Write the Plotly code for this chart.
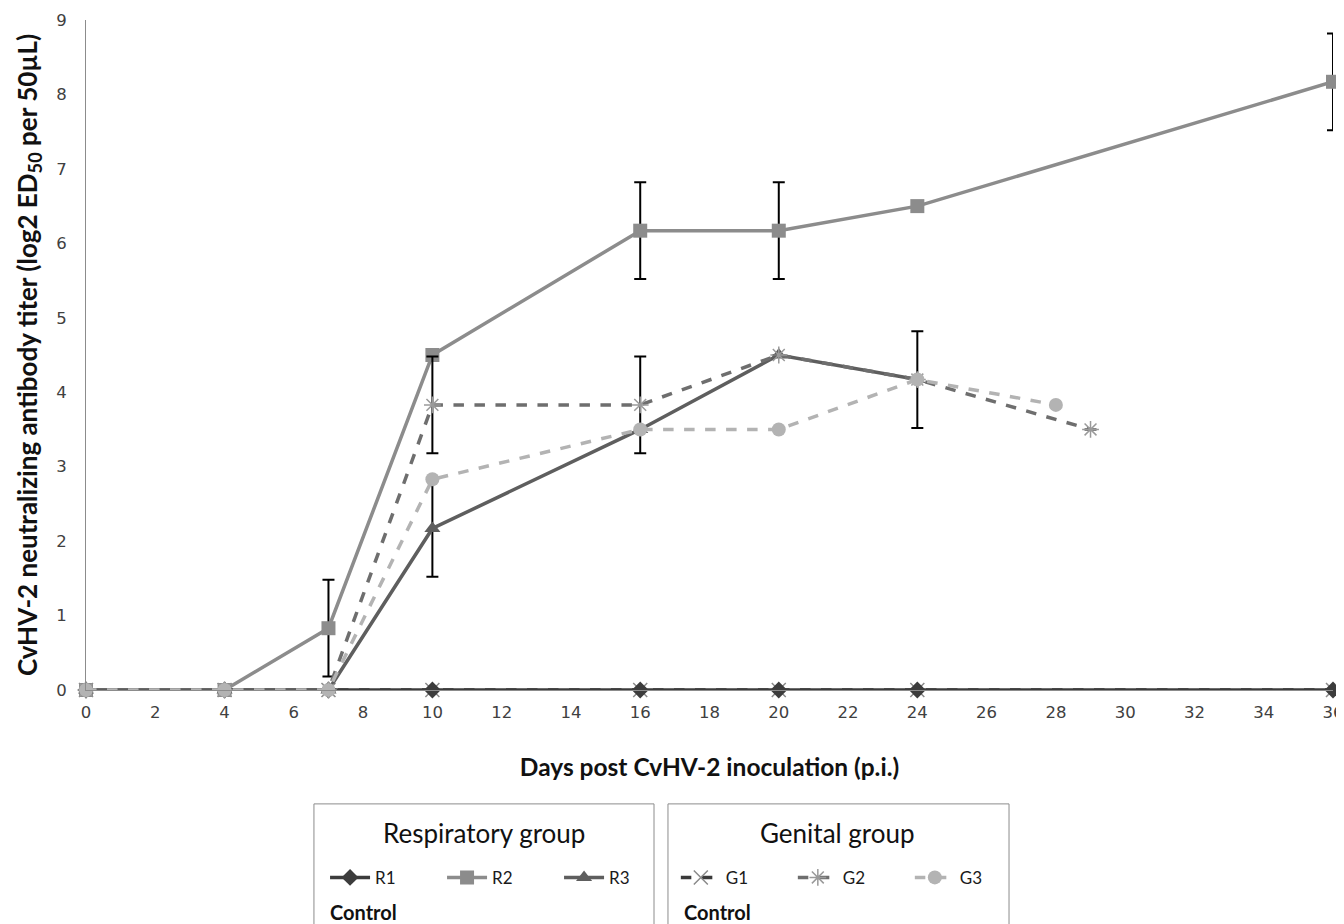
import plotly.graph_objects as go

# ---- data ----
days_full = [0, 4, 7, 10, 16, 20, 24, 36]
r1 = [0, 0, 0, 0, 0, 0, 0, 0]
g1 = [0, 0, 0, 0, 0, 0, 0, 0]

r2_days = [0, 4, 7, 10, 16, 20, 24, 36]
r2 = [0, 0, 0.83, 4.5, 6.17, 6.17, 6.5, 8.17]
r2_err = [0, 0, 0.65, 0, 0.65, 0.65, 0, 0.65]

r3_days = [0, 4, 7, 10, 16, 20, 24]
r3 = [0, 0, 0, 2.17, 3.5, 4.5, 4.17]
r3_err = [0, 0, 0, 0.65, 0, 0, 0.65]

g2_days = [0, 4, 7, 10, 16, 20, 24, 29]
g2 = [0, 0, 0, 3.83, 3.83, 4.5, 4.17, 3.5]
g2_err = [0, 0, 0, 0.65, 0.65, 0, 0, 0]

g3_days = [0, 4, 7, 10, 16, 20, 24, 28]
g3 = [0, 0, 0, 2.83, 3.5, 3.5, 4.17, 3.83]

x_ticks = list(range(0, 37, 2))
y_ticks = list(range(0, 10))

FONT = "Lato, Open Sans, sans-serif"
LEG_FONT = dict(family=FONT, size=17, color="#1a1a1a")

fig = go.Figure()

def err(arr):
    return dict(type="data", array=arr, visible=True, color="black",
                thickness=2, width=6)

fig.add_trace(go.Scatter(
    x=days_full, y=g1, name="G1", legend="legend2", legendrank=1,
    mode="lines+markers", line=dict(color="#3a3a3a", width=3.5, dash="dash"),
    marker=dict(symbol="x-thin-open", size=14, color="#8a8a8a",
                line=dict(width=1.5, color="#8a8a8a")),
    cliponaxis=False))
fig.add_trace(go.Scatter(
    x=days_full, y=r1, name="R1", legend="legend", legendrank=1,
    mode="lines+markers", line=dict(color="#3c3c3c", width=3.5),
    marker=dict(symbol="diamond", size=13, color="#3c3c3c"),
    cliponaxis=False))
fig.add_trace(go.Scatter(
    x=r2_days, y=r2, name="R2", legend="legend", legendrank=2,
    mode="lines+markers", line=dict(color="#8c8c8c", width=3.5),
    marker=dict(symbol="square", size=14, color="#8c8c8c"),
    error_y=err(r2_err), cliponaxis=False))
fig.add_trace(go.Scatter(
    x=r3_days, y=r3, name="R3", legend="legend", legendrank=3,
    mode="lines+markers", line=dict(color="#5e5e5e", width=3.5),
    marker=dict(symbol="triangle-up", size=14, color="#5e5e5e"),
    error_y=err(r3_err), cliponaxis=False))
fig.add_trace(go.Scatter(
    x=g2_days, y=g2, name="G2", legend="legend2", legendrank=2,
    mode="lines+markers", line=dict(color="#6e6e6e", width=3.5, dash="dash"),
    marker=dict(symbol="asterisk-open", size=14, color="#9a9a9a",
                line=dict(width=1.5, color="#9a9a9a")),
    error_y=err(g2_err), cliponaxis=False))
fig.add_trace(go.Scatter(
    x=g3_days, y=g3, name="G3", legend="legend2", legendrank=3,
    mode="lines+markers", line=dict(color="#b3b3b3", width=3.5, dash="dash"),
    marker=dict(symbol="circle", size=14, color="#b3b3b3"),
    cliponaxis=False))

# legend boxes (decoration)
box_line = dict(color="#8c8c8c", width=1)
fig.add_shape(type="rect", xref="paper", yref="paper",
              x0=0.1828, x1=0.4555, y0=-0.1700, y1=-0.40, line=box_line)
fig.add_shape(type="rect", xref="paper", yref="paper",
              x0=0.4667, x1=0.7402, y0=-0.1700, y1=-0.40, line=box_line)

# legend titles
for xp, txt in ((0.3192, "Respiratory group"), (0.6030, "Genital group")):
    fig.add_annotation(text=txt, xref="paper", yref="paper",
                       x=xp, y=-0.2134, xanchor="center", yanchor="middle",
                       showarrow=False,
                       font=dict(family=FONT, size=26, color="#111111"))

# "Control" labels
for xp in (0.1940, 0.4780):
    fig.add_annotation(text="<b>Control</b>", xref="paper", yref="paper",
                       x=xp, y=-0.331, xanchor="left", yanchor="middle",
                       showarrow=False,
                       font=dict(family=FONT, size=20, color="#111111"))

leg_common = dict(orientation="h", yanchor="middle", xanchor="left",
                  font=LEG_FONT, bgcolor="rgba(0,0,0,0)", borderwidth=0,
                  entrywidth=62, itemwidth=40, traceorder="normal")
fig.update_layout(
    legend=dict(x=0.1917, y=-0.2804, **leg_common),
    legend2=dict(x=0.4730, y=-0.2804, **leg_common),
)

# note: page body has an 8px margin, so the figure is offset by 8px
fig.update_layout(
    width=1344, height=924,
    margin=dict(l=78, r=19, t=12, b=242, autoexpand=False),
    plot_bgcolor="white", paper_bgcolor="white",
    showlegend=True,
    xaxis=dict(range=[0, 36], tickvals=x_ticks, ticktext=[str(v) for v in x_ticks],
               showgrid=False, zeroline=False, showline=True, linecolor="#8c8c8c",
               ticks="", ticklabelstandoff=7,
               tickfont=dict(family="DejaVu Sans", size=16.5, color="#404040"),
               title=dict(text="<b>Days post CvHV-2 inoculation (p.i.)</b>", standoff=38,
                          font=dict(family=FONT, size=24.5, color="#111111"))),
    yaxis=dict(range=[0, 9], tickvals=y_ticks, ticktext=[str(v) for v in y_ticks],
               showgrid=False, zeroline=False, showline=True, linecolor="#8c8c8c",
               ticks="", ticklabelstandoff=15,
               tickfont=dict(family="DejaVu Sans", size=16.5, color="#404040"),
               title=dict(text="<b>CvHV-2 neutralizing antibody titer (log2 ED<sub>50</sub> per 50µL)</b>",
                          standoff=11,
                          font=dict(family=FONT, size=26, color="#111111"))),
)

fig.write_html("out.html")
